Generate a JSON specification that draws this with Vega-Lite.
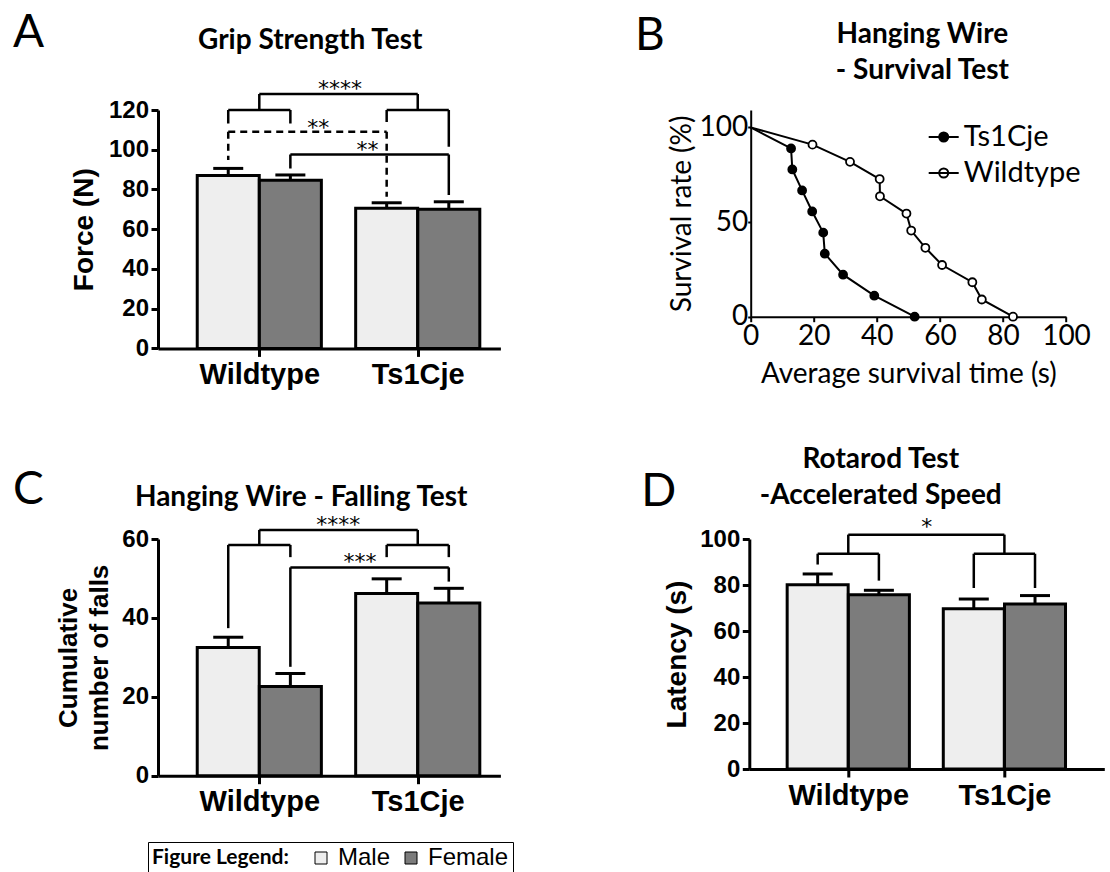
{
  "$schema": "https://vega.github.io/schema/vega-lite/v6.json",
  "padding": {"left": 13, "top": 10, "right": 5, "bottom": 0},
  "config": {
    "view": {"stroke": null},
    "axis": {"grid": false, "domainColor": "black", "tickColor": "black", "labelColor": "black", "titleColor": "black", "labelFlush": false, "labelOverlap": false},
    "title": {"font": "Lato", "fontSize": 28, "fontWeight": "bold", "color": "black", "anchor": "middle", "frame": "group", "baseline": "alphabetic", "offset": 0, "lineHeight": 36.6}
  },
  "datasets": {
    "gripBars": [
      {"genotype": "Wildtype", "sex": "Male", "pos": 1, "mean": 87, "err": 90.6},
      {"genotype": "Wildtype", "sex": "Female", "pos": 2, "mean": 84.7, "err": 87.3},
      {"genotype": "Ts1Cje", "sex": "Male", "pos": 3.55, "mean": 70.5, "err": 73.3},
      {"genotype": "Ts1Cje", "sex": "Female", "pos": 4.55, "mean": 70, "err": 73.8}
    ],
    "gripBr": [
      {"x1": 1, "x2": 2, "y1": 120, "y2": 120, "style": "solid"},
      {"x1": 1, "x2": 1, "y1": 120, "y2": 113.2, "style": "solid"},
      {"x1": 2, "x2": 2, "y1": 120, "y2": 113.2, "style": "solid"},
      {"x1": 1.5, "x2": 4.05, "y1": 128, "y2": 128, "style": "solid"},
      {"x1": 1.5, "x2": 1.5, "y1": 128, "y2": 120, "style": "solid"},
      {"x1": 4.05, "x2": 4.05, "y1": 128, "y2": 120, "style": "solid"},
      {"x1": 3.55, "x2": 4.55, "y1": 120, "y2": 120, "style": "solid"},
      {"x1": 3.55, "x2": 3.55, "y1": 120, "y2": 114, "style": "solid"},
      {"x1": 4.55, "x2": 4.55, "y1": 120, "y2": 101.5, "style": "solid"},
      {"x1": 1, "x2": 3.55, "y1": 109, "y2": 109, "style": "dashed"},
      {"x1": 1, "x2": 1, "y1": 109, "y2": 94.8, "style": "dashed"},
      {"x1": 3.55, "x2": 3.55, "y1": 109, "y2": 76.3, "style": "dashed"},
      {"x1": 2, "x2": 4.55, "y1": 97.6, "y2": 97.6, "style": "solid"},
      {"x1": 2, "x2": 2, "y1": 97.6, "y2": 90.6, "style": "solid"},
      {"x1": 4.55, "x2": 4.55, "y1": 97.6, "y2": 77.2, "style": "solid"}
    ],
    "gripLab": [
      {"x": 2.8, "y": 126.8, "label": "****"},
      {"x": 2.45, "y": 107.4, "label": "**"},
      {"x": 3.24, "y": 96.4, "label": "**"}
    ],
    "surv": [
      {"series": "Ts1Cje", "i": 0, "t": 0, "s": 100},
      {"series": "Ts1Cje", "i": 1, "t": 12.8, "s": 88.9},
      {"series": "Ts1Cje", "i": 2, "t": 13.2, "s": 77.8},
      {"series": "Ts1Cje", "i": 3, "t": 16.3, "s": 66.7},
      {"series": "Ts1Cje", "i": 4, "t": 19.5, "s": 55.6},
      {"series": "Ts1Cje", "i": 5, "t": 23.0, "s": 44.4},
      {"series": "Ts1Cje", "i": 6, "t": 23.5, "s": 33.3},
      {"series": "Ts1Cje", "i": 7, "t": 29.3, "s": 22.2},
      {"series": "Ts1Cje", "i": 8, "t": 39.2, "s": 11.1},
      {"series": "Ts1Cje", "i": 9, "t": 52.0, "s": 0},
      {"series": "Wildtype", "i": 0, "t": 0, "s": 100},
      {"series": "Wildtype", "i": 1, "t": 19.6, "s": 90.9},
      {"series": "Wildtype", "i": 2, "t": 31.5, "s": 81.8},
      {"series": "Wildtype", "i": 3, "t": 40.9, "s": 72.7},
      {"series": "Wildtype", "i": 4, "t": 41.0, "s": 63.6},
      {"series": "Wildtype", "i": 5, "t": 49.4, "s": 54.5},
      {"series": "Wildtype", "i": 6, "t": 50.9, "s": 45.5},
      {"series": "Wildtype", "i": 7, "t": 55.4, "s": 36.4},
      {"series": "Wildtype", "i": 8, "t": 60.7, "s": 27.3},
      {"series": "Wildtype", "i": 9, "t": 70.3, "s": 18.2},
      {"series": "Wildtype", "i": 10, "t": 73.3, "s": 9.1},
      {"series": "Wildtype", "i": 11, "t": 83.2, "s": 0}
    ],
    "fallBars": [
      {"genotype": "Wildtype", "sex": "Male", "pos": 1, "mean": 32.5, "err": 35.1},
      {"genotype": "Wildtype", "sex": "Female", "pos": 2, "mean": 22.6, "err": 25.9},
      {"genotype": "Ts1Cje", "sex": "Male", "pos": 3.55, "mean": 46.2, "err": 49.9},
      {"genotype": "Ts1Cje", "sex": "Female", "pos": 4.55, "mean": 43.8, "err": 47.5}
    ],
    "fallBr": [
      {"x1": 1, "x2": 2, "y1": 58.5, "y2": 58.5, "style": "solid"},
      {"x1": 1, "x2": 1, "y1": 58.5, "y2": 37.4, "style": "solid"},
      {"x1": 2, "x2": 2, "y1": 58.5, "y2": 55.4, "style": "solid"},
      {"x1": 1.5, "x2": 4.05, "y1": 62.3, "y2": 62.3, "style": "solid"},
      {"x1": 1.5, "x2": 1.5, "y1": 62.3, "y2": 58.5, "style": "solid"},
      {"x1": 4.05, "x2": 4.05, "y1": 62.3, "y2": 58.5, "style": "solid"},
      {"x1": 3.55, "x2": 4.55, "y1": 58.5, "y2": 58.5, "style": "solid"},
      {"x1": 3.55, "x2": 3.55, "y1": 58.5, "y2": 55.4, "style": "solid"},
      {"x1": 4.55, "x2": 4.55, "y1": 58.5, "y2": 55.4, "style": "solid"},
      {"x1": 2, "x2": 4.55, "y1": 52.8, "y2": 52.8, "style": "solid"},
      {"x1": 2, "x2": 2, "y1": 52.8, "y2": 27.6, "style": "solid"},
      {"x1": 4.55, "x2": 4.55, "y1": 52.8, "y2": 49.2, "style": "solid"}
    ],
    "fallLab": [
      {"x": 2.77, "y": 61.7, "label": "****"},
      {"x": 3.12, "y": 52.4, "label": "***"}
    ],
    "rotBars": [
      {"genotype": "Wildtype", "sex": "Male", "pos": 1, "mean": 80.1, "err": 84.8},
      {"genotype": "Wildtype", "sex": "Female", "pos": 2, "mean": 75.8, "err": 77.7},
      {"genotype": "Ts1Cje", "sex": "Male", "pos": 3.55, "mean": 69.7, "err": 73.9},
      {"genotype": "Ts1Cje", "sex": "Female", "pos": 4.55, "mean": 71.7, "err": 75.4}
    ],
    "rotBr": [
      {"x1": 1.5, "x2": 4.05, "y1": 101.9, "y2": 101.9, "style": "solid"},
      {"x1": 1.5, "x2": 1.5, "y1": 101.9, "y2": 93.6, "style": "solid"},
      {"x1": 4.05, "x2": 4.05, "y1": 101.9, "y2": 93.6, "style": "solid"},
      {"x1": 1, "x2": 2, "y1": 93.6, "y2": 93.6, "style": "solid"},
      {"x1": 1, "x2": 1, "y1": 93.6, "y2": 88.9, "style": "solid"},
      {"x1": 2, "x2": 2, "y1": 93.6, "y2": 81.9, "style": "solid"},
      {"x1": 3.55, "x2": 4.55, "y1": 93.6, "y2": 93.6, "style": "solid"},
      {"x1": 3.55, "x2": 3.55, "y1": 93.6, "y2": 78.7, "style": "solid"},
      {"x1": 4.55, "x2": 4.55, "y1": 93.6, "y2": 78.7, "style": "solid"}
    ],
    "rotLab": [
      {"x": 2.78, "y": 102.0, "label": "*"}
    ]
  },
  "resolve": {"scale": {"color": "independent", "fill": "independent"}, "legend": {"color": "independent", "fill": "independent"}},
  "spacing": 429,
  "bounds": "flush",
  "vconcat": [
    {
      "hconcat": [
        {
          "title": {"text": "A", "anchor": "start", "frame": "group", "align": "left", "dx": -145, "dy": 34, "fontSize": 46, "fontWeight": "normal"},
          "bounds": "flush",
          "resolve": {"scale": {"color": "independent", "fill": "independent"}, "legend": {"color": "independent", "fill": "independent"}},
          "vconcat": [
            {
              "width": 342.4,
              "height": 238.4,
              "title": {"text": "Grip Strength Test", "dx": -19, "dy": -19.1},
              "layer": [
                {
                  "data": {"name": "gripBars"},
                  "mark": {"type": "bar", "orient": "vertical", "size": 62, "stroke": "black", "strokeWidth": 3},
                  "encoding": {
                    "x": {"field": "pos", "type": "quantitative", "scale": {"domain": [-0.05, 5.3], "nice": false, "zero": false},
                      "axis": {"values": [1.5, 4.05], "tickCount": 10, "labelExpr": "datum.value < 3 ? 'Wildtype' : 'Ts1Cje'", "title": null, "tickSize": 8, "tickWidth": 3, "domainWidth": 3, "labelFont": "Liberation Sans", "labelFontSize": 29, "labelFontWeight": "bold", "labelPadding": 4, "labelBaseline": "top", "labelOverlap": false, "labelFlush": false}},
                    "y": {"field": "mean", "type": "quantitative", "stack": null, "scale": {"domain": [0, 120], "nice": false},
                      "axis": {"values": [0, 20, 40, 60, 80, 100, 120], "tickCount": 20, "title": "Force (N)", "titleFont": "Liberation Sans", "titleFontSize": 28, "titleFontWeight": "bold", "titlePadding": 10, "labelFont": "Liberation Sans", "labelFontSize": 24, "labelFontWeight": "bold", "labelPadding": 2.5, "tickSize": 7, "tickWidth": 3, "domainWidth": 3, "labelOverlap": false, "labelFlush": false}},
                    "color": {"field": "sex", "type": "nominal", "scale": {"domain": ["Male", "Female"], "range": ["#eeeeee", "#7c7c7c"]}, "legend": null}
                  }
                },
                {
                  "data": {"name": "gripBars"},
                  "mark": {"type": "rule", "strokeWidth": 3, "color": "black"},
                  "encoding": {"x": {"field": "pos", "type": "quantitative"}, "y": {"field": "mean", "type": "quantitative"}, "y2": {"field": "err"}}
                },
                {
                  "data": {"name": "gripBars"},
                  "mark": {"type": "rule", "strokeWidth": 3, "color": "black", "xOffset": -15, "x2Offset": 15},
                  "encoding": {"x": {"field": "pos", "type": "quantitative"}, "x2": {"field": "pos"}, "y": {"field": "err", "type": "quantitative"}}
                },
                {
                  "data": {"name": "gripBr"},
                  "mark": {"type": "rule", "strokeWidth": 2.5, "color": "black"},
                  "encoding": {
                    "x": {"field": "x1", "type": "quantitative"}, "x2": {"field": "x2"},
                    "y": {"field": "y1", "type": "quantitative"}, "y2": {"field": "y2"},
                    "strokeDash": {"field": "style", "type": "nominal", "scale": {"domain": ["solid", "dashed"], "range": [[1, 0], [7, 5]]}, "legend": null}
                  }
                },
                {
                  "data": {"name": "gripLab"},
                  "mark": {"type": "text", "font": "DejaVu Sans", "fontSize": 22, "baseline": "alphabetic", "align": "center", "fill": "black"},
                  "encoding": {"x": {"field": "x", "type": "quantitative"}, "y": {"field": "y", "type": "quantitative"}, "text": {"field": "label"}}
                }
              ]
            }
          ]
        },
        {
          "title": {"text": "B", "anchor": "start", "frame": "group", "align": "left", "dx": -115.7, "dy": 43, "fontSize": 46, "fontWeight": "normal"},
          "bounds": "flush",
          "resolve": {"scale": {"color": "independent", "fill": "independent"}, "legend": {"color": "independent", "fill": "independent"}},
          "vconcat": [
            {
              "width": 315.3,
              "height": 206.7,
              "title": {"text": ["Hanging Wire", "- Survival Test"], "dx": 14, "dy": -20.6},
              "data": {"name": "surv"},
              "layer": [
                {
                  "mark": {"type": "line", "color": "black", "strokeWidth": 2},
                  "encoding": {
                    "x": {"field": "t", "type": "quantitative", "scale": {"domain": [0, 100], "nice": false},
                      "axis": {"values": [0, 20, 40, 60, 80, 100], "tickCount": 20, "title": "Average survival time (s)", "titleFont": "Lato", "titleFontSize": 28, "titleFontWeight": "normal", "titlePadding": 10, "labelFont": "Lato", "labelFontSize": 28, "tickSize": 5, "tickWidth": 2, "domainWidth": 2, "labelPadding": 1, "labelOverlap": false, "labelFlush": false}},
                    "y": {"field": "s", "type": "quantitative", "scale": {"domain": [0, 109.2], "nice": false},
                      "axis": {"values": [0, 50, 100], "tickCount": 10, "title": "Survival rate (%)", "titleFont": "Lato", "titleFontSize": 28, "titleFontWeight": "normal", "titlePadding": 2, "labelFont": "Lato", "labelFontSize": 28, "tickSize": 3, "tickWidth": 2, "domainWidth": 2, "labelPadding": 0, "labelOverlap": false, "labelFlush": false}},
                    "detail": {"field": "series", "type": "nominal"},
                    "order": {"field": "i", "type": "quantitative"}
                  }
                },
                {
                  "transform": [{"filter": "datum.t > 0"}],
                  "mark": {"type": "point", "filled": true, "stroke": "black", "strokeWidth": 1.8, "size": 64, "opacity": 1},
                  "encoding": {
                    "x": {"field": "t", "type": "quantitative"},
                    "y": {"field": "s", "type": "quantitative"},
                    "fill": {"field": "series", "type": "nominal", "scale": {"domain": ["Ts1Cje", "Wildtype"], "range": ["black", "white"]},
                      "legend": {"orient": "none", "legendX": 177, "legendY": 11, "title": null, "symbolType": "M-1,0L1,0M-0.3,0A0.3,0.3,0,1,1,0.3,0A0.3,0.3,0,1,1,-0.3,0Z", "symbolSize": 900, "symbolStrokeColor": "black", "symbolStrokeWidth": 2, "labelFont": "Lato", "labelFontSize": 29, "labelColor": "black", "labelOffset": 4, "rowPadding": 5, "padding": 0}}
                  }
                }
              ]
            }
          ]
        }
      ],
      "spacing": 592.7,
      "bounds": "flush",
      "resolve": {"scale": {"color": "independent", "fill": "independent"}, "legend": {"color": "independent", "fill": "independent"}}
    },
    {
      "hconcat": [
        {
          "title": {"text": "C", "anchor": "start", "frame": "group", "align": "left", "dx": -145, "dy": 34.7, "fontSize": 46, "fontWeight": "normal"},
          "bounds": "flush",
          "resolve": {"scale": {"color": "independent", "fill": "independent"}, "legend": {"color": "independent", "fill": "independent"}},
          "vconcat": [
            {
              "width": 342.4,
              "height": 236.7,
              "title": {"text": "Hanging Wire - Falling Test", "dx": -28, "dy": 1.5},
              "layer": [
                {
                  "data": {"name": "fallBars"},
                  "mark": {"type": "bar", "orient": "vertical", "size": 62, "stroke": "black", "strokeWidth": 3},
                  "encoding": {
                    "x": {"field": "pos", "type": "quantitative", "scale": {"domain": [-0.05, 5.3], "nice": false, "zero": false},
                      "axis": {"values": [1.5, 4.05], "tickCount": 10, "labelExpr": "datum.value < 3 ? 'Wildtype' : 'Ts1Cje'", "title": null, "tickSize": 8, "tickWidth": 3, "domainWidth": 3, "labelFont": "Liberation Sans", "labelFontSize": 29, "labelFontWeight": "bold", "labelPadding": 4, "labelBaseline": "top", "labelOverlap": false, "labelFlush": false}},
                    "y": {"field": "mean", "type": "quantitative", "stack": null, "scale": {"domain": [0, 60], "nice": false},
                      "axis": {"values": [0, 20, 40, 60], "tickCount": 10, "title": ["Cumulative", "number of falls"], "titleFont": "Liberation Sans", "titleFontSize": 26, "titleFontWeight": "bold", "titleLineHeight": 31, "titlePadding": 9.5, "labelFont": "Liberation Sans", "labelFontSize": 24, "labelFontWeight": "bold", "labelPadding": 2.5, "tickSize": 7, "tickWidth": 3, "domainWidth": 3, "labelOverlap": false, "labelFlush": false}},
                    "color": {"field": "sex", "type": "nominal", "scale": {"domain": ["Male", "Female"], "range": ["#eeeeee", "#7c7c7c"]},
                      "legend": {"orient": "none", "legendX": -10, "legendY": 303, "direction": "horizontal", "title": "Figure Legend:", "titleOrient": "left", "titleFont": "Lato", "titleFontSize": 21, "titleFontWeight": "bold", "titleColor": "black", "titlePadding": 20, "labelFont": "Liberation Sans", "labelFontSize": 24, "labelColor": "black", "labelOffset": 5, "columnPadding": 8, "symbolType": "square", "symbolSize": 144, "symbolStrokeColor": "black", "symbolStrokeWidth": 1, "strokeColor": "black", "padding": 4}}
                  }
                },
                {
                  "data": {"name": "fallBars"},
                  "mark": {"type": "rule", "strokeWidth": 3, "color": "black"},
                  "encoding": {"x": {"field": "pos", "type": "quantitative"}, "y": {"field": "mean", "type": "quantitative"}, "y2": {"field": "err"}}
                },
                {
                  "data": {"name": "fallBars"},
                  "mark": {"type": "rule", "strokeWidth": 3, "color": "black", "xOffset": -15, "x2Offset": 15},
                  "encoding": {"x": {"field": "pos", "type": "quantitative"}, "x2": {"field": "pos"}, "y": {"field": "err", "type": "quantitative"}}
                },
                {
                  "data": {"name": "fallBr"},
                  "mark": {"type": "rule", "strokeWidth": 2.5, "color": "black"},
                  "encoding": {
                    "x": {"field": "x1", "type": "quantitative"}, "x2": {"field": "x2"},
                    "y": {"field": "y1", "type": "quantitative"}, "y2": {"field": "y2"}
                  }
                },
                {
                  "data": {"name": "fallLab"},
                  "mark": {"type": "text", "font": "DejaVu Sans", "fontSize": 22, "baseline": "alphabetic", "align": "center", "fill": "black"},
                  "encoding": {"x": {"field": "x", "type": "quantitative"}, "y": {"field": "y", "type": "quantitative"}, "text": {"field": "label"}}
                }
              ]
            }
          ]
        },
        {
          "title": {"text": "D", "anchor": "start", "frame": "group", "align": "left", "dx": -108, "dy": 74.6, "fontSize": 46, "fontWeight": "normal"},
          "bounds": "flush",
          "resolve": {"scale": {"color": "independent", "fill": "independent"}, "legend": {"color": "independent", "fill": "independent"}},
          "vconcat": [
            {
              "width": 355,
              "height": 230,
              "title": {"text": ["Rotarod Test", "-Accelerated Speed"], "dx": -46, "dy": -2},
              "layer": [
                {
                  "data": {"name": "rotBars"},
                  "mark": {"type": "bar", "orient": "vertical", "size": 61, "stroke": "black", "strokeWidth": 3},
                  "encoding": {
                    "x": {"field": "pos", "type": "quantitative", "scale": {"domain": [-0.035, 5.6], "nice": false, "zero": false},
                      "axis": {"values": [1.5, 4.05], "tickCount": 10, "labelExpr": "datum.value < 3 ? 'Wildtype' : 'Ts1Cje'", "title": null, "tickSize": 8, "tickWidth": 3, "domainWidth": 3, "labelFont": "Liberation Sans", "labelFontSize": 29, "labelFontWeight": "bold", "labelPadding": 4, "labelBaseline": "top", "labelOverlap": false, "labelFlush": false}},
                    "y": {"field": "mean", "type": "quantitative", "stack": null, "scale": {"domain": [0, 100], "nice": false},
                      "axis": {"values": [0, 20, 40, 60, 80, 100], "tickCount": 20, "title": "Latency (s)", "titleFont": "Liberation Sans", "titleFontSize": 28, "titleFontWeight": "bold", "titlePadding": 8.5, "labelFont": "Liberation Sans", "labelFontSize": 24, "labelFontWeight": "bold", "labelPadding": 2.5, "tickSize": 7, "tickWidth": 3, "domainWidth": 3, "labelOverlap": false, "labelFlush": false}},
                    "color": {"field": "sex", "type": "nominal", "scale": {"domain": ["Male", "Female"], "range": ["#eeeeee", "#7c7c7c"]}, "legend": null}
                  }
                },
                {
                  "data": {"name": "rotBars"},
                  "mark": {"type": "rule", "strokeWidth": 3, "color": "black"},
                  "encoding": {"x": {"field": "pos", "type": "quantitative"}, "y": {"field": "mean", "type": "quantitative"}, "y2": {"field": "err"}}
                },
                {
                  "data": {"name": "rotBars"},
                  "mark": {"type": "rule", "strokeWidth": 3, "color": "black", "xOffset": -15, "x2Offset": 15},
                  "encoding": {"x": {"field": "pos", "type": "quantitative"}, "x2": {"field": "pos"}, "y": {"field": "err", "type": "quantitative"}}
                },
                {
                  "data": {"name": "rotBr"},
                  "mark": {"type": "rule", "strokeWidth": 2.5, "color": "black"},
                  "encoding": {
                    "x": {"field": "x1", "type": "quantitative"}, "x2": {"field": "x2"},
                    "y": {"field": "y1", "type": "quantitative"}, "y2": {"field": "y2"}
                  }
                },
                {
                  "data": {"name": "rotLab"},
                  "mark": {"type": "text", "font": "DejaVu Sans", "fontSize": 22, "baseline": "alphabetic", "align": "center", "fill": "black"},
                  "encoding": {"x": {"field": "x", "type": "quantitative"}, "y": {"field": "y", "type": "quantitative"}, "text": {"field": "label"}}
                }
              ]
            }
          ]
        }
      ],
      "spacing": 591.3,
      "bounds": "flush",
      "resolve": {"scale": {"color": "independent", "fill": "independent"}, "legend": {"color": "independent", "fill": "independent"}}
    }
  ]
}
